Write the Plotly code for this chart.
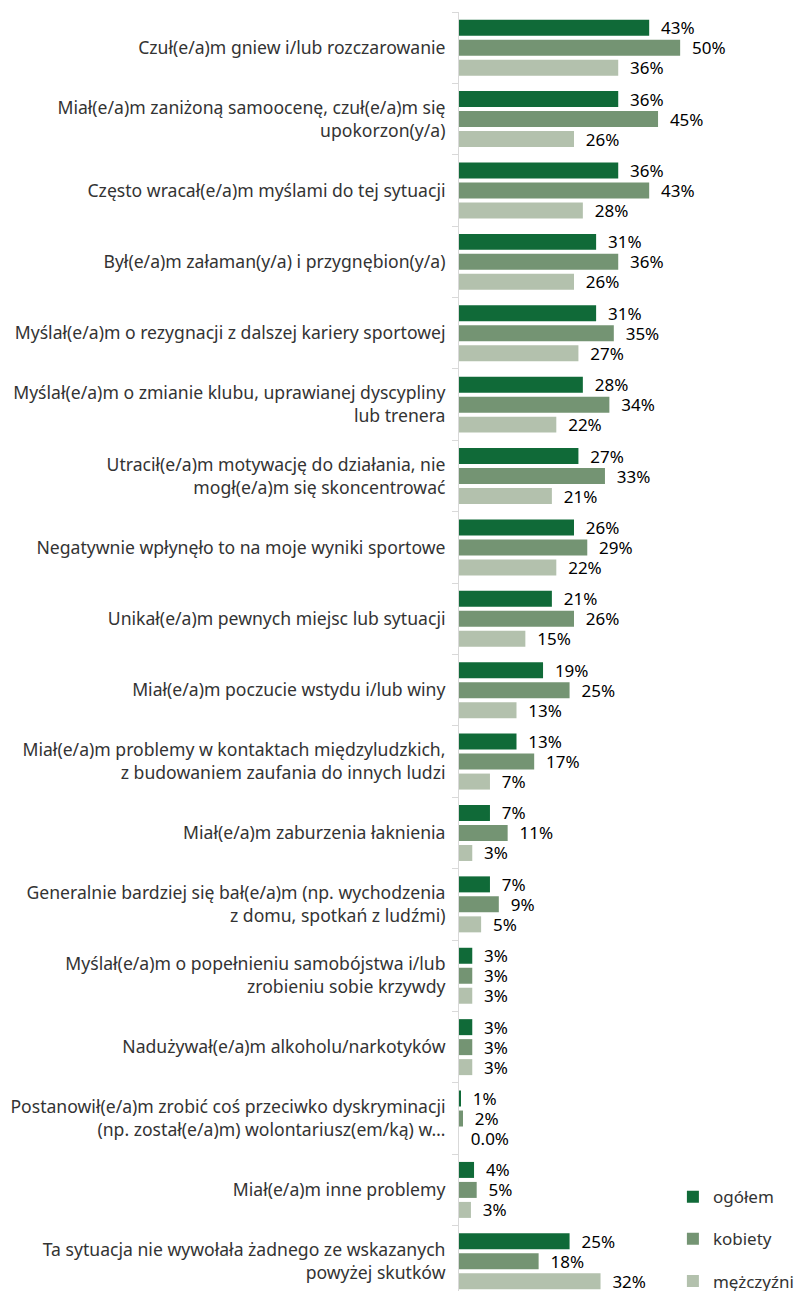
import plotly.graph_objects as go

categories = [
    "Czuł(e/a)m gniew i/lub rozczarowanie",
    "Miał(e/a)m zaniżoną samoocenę, czuł(e/a)m się<br>upokorzon(y/a)",
    "Często wracał(e/a)m myślami do tej sytuacji",
    "Był(e/a)m załaman(y/a) i przygnębion(y/a)",
    "Myślał(e/a)m o rezygnacji z dalszej kariery sportowej",
    "Myślał(e/a)m o zmianie klubu, uprawianej dyscypliny<br>lub trenera",
    "Utracił(e/a)m motywację do działania, nie<br>mogł(e/a)m się skoncentrować",
    "Negatywnie wpłynęło to na moje wyniki sportowe",
    "Unikał(e/a)m pewnych miejsc lub sytuacji",
    "Miał(e/a)m poczucie wstydu i/lub winy",
    "Miał(e/a)m problemy w kontaktach międzyludzkich,<br>z budowaniem zaufania do innych ludzi",
    "Miał(e/a)m zaburzenia łaknienia",
    "Generalnie bardziej się bał(e/a)m (np. wychodzenia<br>z domu, spotkań z ludźmi)",
    "Myślał(e/a)m o popełnieniu samobójstwa i/lub<br>zrobieniu sobie krzywdy",
    "Nadużywał(e/a)m alkoholu/narkotyków",
    "Postanowił(e/a)m zrobić coś przeciwko dyskryminacji<br>(np. został(e/a)m) wolontariusz(em/ką) w…",
    "Miał(e/a)m inne problemy",
    "Ta sytuacja nie wywołała żadnego ze wskazanych<br>powyżej skutków",
]

ogolem = [43, 36, 36, 31, 31, 28, 27, 26, 21, 19, 13, 7, 7, 3, 3, 0.3, 3.4, 25]
kobiety = [50, 45, 43, 36, 35, 34, 33, 29, 26, 25, 17, 11, 9, 3, 3, 0.9, 4, 18]
mezczyzni = [36, 26, 28, 26, 27, 22, 21, 22, 15, 13, 7, 3, 5, 3, 3, 0, 2.7, 32]

ogolem_labels = ["43%", "36%", "36%", "31%", "31%", "28%", "27%", "26%", "21%", "19%", "13%", "7%", "7%", "3%", "3%", "1%", "4%", "25%"]
kobiety_labels = ["50%", "45%", "43%", "36%", "35%", "34%", "33%", "29%", "26%", "25%", "17%", "11%", "9%", "3%", "3%", "2%", "5%", "18%"]
mezczyzni_labels = ["36%", "26%", "28%", "26%", "27%", "22%", "21%", "22%", "15%", "13%", "7%", "3%", "5%", "3%", "3%", "0.0%", "3%", "32%"]

series = [
    ("ogółem", ogolem, ogolem_labels, "#106a38"),
    ("kobiety", kobiety, kobiety_labels, "#749473"),
    ("mężczyźni", mezczyzni, mezczyzni_labels, "#b3c1ad"),
]

FONT = "Noto Sans"
fig = go.Figure()
for i, (name, vals, labels, color) in enumerate(series):
    fig.add_trace(go.Bar(
        name=name, y=categories, x=vals, orientation="h",
        marker=dict(color=color, line=dict(width=0)),
        text=["\u00a0\u00a0" + t for t in labels],
        textposition="outside", cliponaxis=False, constraintext="none",
        textfont=dict(family=FONT, size=17, color="#000000"),
        legendgroup=name,
    ))

# The page body has an 8px margin; the figure is sized/placed to compensate.
# In the original the last category runs slightly past the bottom edge.
fig.update_layout(
    width=796, height=1300,
    margin=dict(l=451, r=0, t=3.6, b=11.2),
    barmode="group", bargap=0.16, bargroupgap=0.2,
    plot_bgcolor="white", paper_bgcolor="white",
    font=dict(family=FONT, size=17.6, color="#333333"),
    legend=dict(x=0.62, y=-0.0017, xanchor="left", yanchor="bottom",
                font=dict(family=FONT, size=17, color="#333333"),
                tracegroupgap=17, bgcolor="rgba(0,0,0,0)"),
    showlegend=True,
)
fig.update_xaxes(range=[0, 78], visible=False, showgrid=False, zeroline=False, automargin=False)
fig.update_yaxes(autorange="reversed", showline=True, linecolor="#d9d9d9", linewidth=1,
                 ticks="outside", tickson="boundaries", ticklen=6, tickcolor="#d9d9d9",
                 showgrid=False, automargin=False,
                 tickfont=dict(family=FONT, size=17.6, color="#333333"),
                 ticklabelstandoff=9)

fig.write_html(
    "out.html",
    post_script="document.documentElement.style.overflow='hidden';document.body.style.overflow='hidden';",
)
